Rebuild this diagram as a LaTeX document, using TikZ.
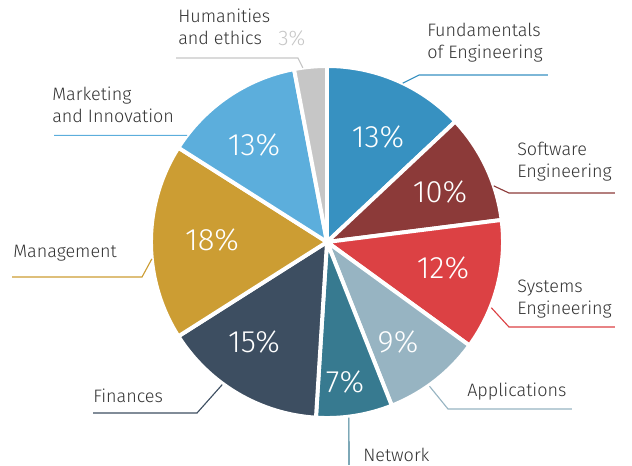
\documentclass[tikz,border=0pt]{standalone}
\usepackage{fontspec}
\setmainfont{Fira Sans}[UprightFont=* Light]
\definecolor{fundcol}{RGB}{55,145,193}
\definecolor{softcol}{RGB}{140,58,57}
\definecolor{systcol}{RGB}{220,65,68}
\definecolor{applcol}{RGB}{151,180,194}
\definecolor{netwcol}{RGB}{55,122,144}
\definecolor{finacol}{RGB}{61,78,97}
\definecolor{manacol}{RGB}{204,157,51}
\definecolor{markcol}{RGB}{92,174,220}
\definecolor{humacol}{RGB}{198,198,198}
\definecolor{textcol}{RGB}{51,51,51}
\tikzset{
  slice/.style={draw=white, line width=2.8pt, line join=round},
  pct/.style={text=white, font=\fontsize{22}{26}\selectfont},
  lbl/.style={align=left, anchor=south west, inner sep=0pt, text=textcol,
    font=\fontsize{12.8}{15.6}\selectfont, execute at end node=\strut},
  leader/.style={line width=0.8pt}
}
\begin{document}
\begin{tikzpicture}[scale=0.025]
  \useasboundingbox (-327,-223) rectangle (305,242);
  % slices, clockwise from the top
  \filldraw[slice, fill=fundcol] (0,0) -- (90:176) arc[start angle=90, end angle=43.2, radius=176] -- cycle;
  \filldraw[slice, fill=softcol] (0,0) -- (43.2:176) arc[start angle=43.2, end angle=7.2, radius=176] -- cycle;
  \filldraw[slice, fill=systcol] (0,0) -- (7.2:176) arc[start angle=7.2, end angle=-36, radius=176] -- cycle;
  \filldraw[slice, fill=applcol] (0,0) -- (-36:176) arc[start angle=-36, end angle=-68.4, radius=176] -- cycle;
  \filldraw[slice, fill=netwcol] (0,0) -- (-68.4:176) arc[start angle=-68.4, end angle=-93.6, radius=176] -- cycle;
  \filldraw[slice, fill=finacol] (0,0) -- (-93.6:176) arc[start angle=-93.6, end angle=-147.6, radius=176] -- cycle;
  \filldraw[slice, fill=manacol] (0,0) -- (-147.6:176) arc[start angle=-147.6, end angle=-212.4, radius=176] -- cycle;
  \filldraw[slice, fill=markcol] (0,0) -- (-212.4:176) arc[start angle=-212.4, end angle=-259.2, radius=176] -- cycle;
  \filldraw[slice, fill=humacol] (0,0) -- (-259.2:176) arc[start angle=-259.2, end angle=-270, radius=176] -- cycle;

  \node[pct] (pfund) at (51,105) {13\%};
  \node[pct] (psoft) at (113,50) {10\%};
  \node[pct] (psyst) at (116,-26) {12\%};
  \node[pct] (pappl) at (71,-100) {9\%};
  \node[pct] (pnetw) at (18,-140) {7\%};
  \node[pct] (pfina) at (-73,-100) {15\%};
  \node[pct] (pmana) at (-115,2) {18\%};
  \node[pct] (pmark) at (-73,97) {13\%};
  \node[anchor=base west, inner sep=0pt, text=humacol, font=\fontsize{15}{18}\selectfont] (phuma) at (-49,197) {3\%};

  % labels
  \node[lbl] (lhuma) at (-149,190.4) {Humanities\\and ethics};
  \node[lbl] (lfund) at (100,176.4) {Fundamentals\\of Engineering};
  \node[lbl] (lmark) at (-275,112.4) {Marketing\\and Innovation};
  \node[lbl] (lsoft) at (190,57.4) {Software\\Engineering};
  \node[lbl] (lsyst) at (190,-79.6) {Systems\\Engineering};
  \node[lbl] (lappl) at (140,-161.6) {Applications};
  \node[lbl] (lnetw) at (36,-226) {Network};
  \node[lbl] (lfina) at (-234,-167.6) {Finances};
  \node[lbl] (lmana) at (-314,-22.6) {Management};

  % leader lines
  \coordinate (ehuma) at (97.9:176);
  \coordinate (bhuma) at (-29,184);
  \coordinate (thuma) at (-151,184);
  \draw[leader, humacol] (ehuma) -- (bhuma) -- (thuma);
  \coordinate (efund) at (64.5:176);
  \coordinate (bfund) at (92,167);
  \coordinate (tfund) at (221,167);
  \draw[leader, fundcol] (efund) -- (bfund) -- (tfund);
  \coordinate (emark) at (142.7:176);
  \coordinate (tmark) at (-273,0 |- emark);
  \draw[leader, markcol] (emark) -- (tmark);
  \coordinate (esoft) at (18.6:176);
  \coordinate (bsoft) at (182,49);
  \coordinate (tsoft) at (288,49);
  \draw[leader, softcol] (esoft) -- (bsoft) -- (tsoft);
  \coordinate (esyst) at (-21.8:177);
  \coordinate (bsyst) at (182,-85);
  \coordinate (tsyst) at (288,-85);
  \draw[leader, systcol] (esyst) -- (bsyst) -- (tsyst);
  \coordinate (eappl) at (-54.6:177);
  \coordinate (bappl) at (121,-167);
  \coordinate (tappl) at (245,-167);
  \draw[leader, applcol] (eappl) -- (bappl) -- (tappl);
  \coordinate (enetw) at (-82.9:177);
  \coordinate (tnetw) at (22,-223);
  \draw[leader, netwcol] (enetw) -- (tnetw);
  \coordinate (efina) at (-126.3:177);
  \coordinate (bfina) at (-130,-171);
  \coordinate (tfina) at (-234,-171);
  \draw[leader, finacol] (efina) -- (bfina) -- (tfina);
  \coordinate (emana) at (185.5:176);
  \coordinate (bmana) at (-185,-35);
  \coordinate (tmana) at (-315,-35);
  \draw[leader, manacol] (emana) -- (bmana) -- (tmana);
\end{tikzpicture}
\end{document}
